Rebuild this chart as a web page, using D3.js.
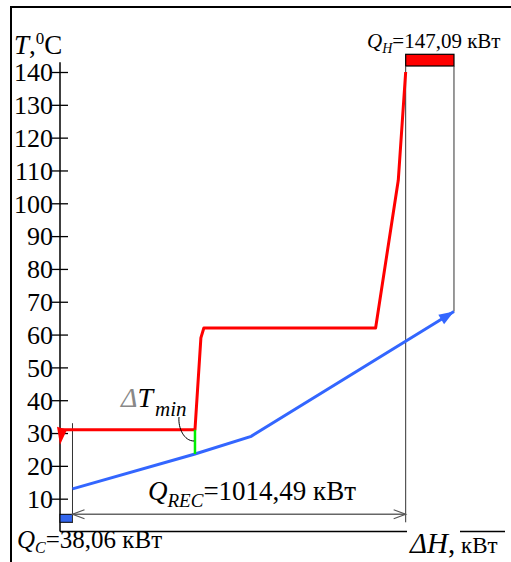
<!DOCTYPE html>
<html><head><meta charset="utf-8">
<script src="https://cdn.jsdelivr.net/npm/d3@7"></script>
<style>
html,body{margin:0;padding:0;background:#fff;}
svg{display:block;font-family:"Liberation Serif","Times New Roman",serif;}
</style></head>
<body>
<svg id="c" width="511" height="562"></svg>
<script>
// ---- data ----
const yTicks = [10,20,30,40,50,60,70,80,90,100,110,120,130,140];
const hotH = [0, 411, 429, 438, 961, 1030, 1052.55];
const hotT = [31, 31, 59, 62, 62, 107, 140];
const coldH = [38.06, 411, 582, 1199.64];
const coldT = [13, 23.6, 29, 67];
const Q_C = 38.06, Q_REC = 1014.49, Q_H = 147.09;
const pinchH = 411, pinchHotT = 31, pinchColdT = 23.6;
const labelQC = "=38,06 кВт", labelQREC = "=1014,49 кВт", labelQH = "=147,09 кВт";

const svg = d3.select("#c");
const x = d3.scaleLinear().domain([0, 1200]).range([60, 454.1]);
const y = d3.scaleLinear().domain([0, 140]).range([531.5, 72]);

// frame
svg.append("path").attr("d","M11,562 V7 H511").attr("fill","none").attr("stroke","#000").attr("stroke-width",2);

// x axis line
svg.append("line").attr("x1",x(0)).attr("x2",505).attr("y1",y(0)).attr("y2",y(0)).attr("stroke","#000").attr("stroke-width",1.5);

// y axis
const yAxis = d3.axisLeft(y).tickValues(yTicks).tickSize(0).tickPadding(7).tickFormat(d3.format("d"));
const ga = svg.append("g").attr("transform",`translate(${x(0)},0)`).call(yAxis);
ga.attr("font-family","Liberation Serif");
ga.select(".domain").remove();
ga.selectAll(".tick line").attr("x1",-8).attr("x2",8).attr("stroke","#000").attr("stroke-width",1.3);
ga.selectAll(".tick text").attr("font-size",26).attr("fill","#000").attr("font-family","Liberation Serif").attr("dy","0.34em");
svg.append("line").attr("x1",x(0)).attr("x2",x(0)).attr("y1",y(0)).attr("y2",y(143)).attr("stroke","#000").attr("stroke-width",1.5);

// Q_C rect
svg.append("rect").attr("x",x(0)).attr("width",x(Q_C)-x(0)).attr("y",514.3).attr("height",8)
  .attr("fill","#3366ee").attr("stroke","#000").attr("stroke-width",1);
// Q_H rect
svg.append("rect").attr("x",x(Q_C+Q_REC)).attr("width",x(Q_C+Q_REC+Q_H)-x(Q_C+Q_REC)).attr("y",54.3).attr("height",11.7)
  .attr("fill","#ff0000").attr("stroke","#000").attr("stroke-width",1.2);

// thin vertical guides
const vg = [[Q_C, y(33), 522.3],[Q_C+Q_REC, 66, 522.3],[Q_C+Q_REC+Q_H, 66, y(coldT[coldT.length-1])]];
vg.forEach(v=>svg.append("line").attr("x1",x(v[0])).attr("x2",x(v[0])).attr("y1",v[1]).attr("y2",v[2]).attr("stroke","#333").attr("stroke-width",1));

// Q_REC double arrow
const ay = 514.3, ax1 = x(Q_C), ax2 = x(Q_C+Q_REC);
svg.append("line").attr("x1",ax1).attr("x2",ax2).attr("y1",ay).attr("y2",ay).attr("stroke","#666").attr("stroke-width",1.5);
svg.append("path").attr("d",`M${ax1+12},${ay-4.5} L${ax1},${ay} L${ax1+12},${ay+4.5}`).attr("fill","none").attr("stroke","#555").attr("stroke-width",1.2);
svg.append("path").attr("d",`M${ax2-12},${ay-4.5} L${ax2},${ay} L${ax2-12},${ay+4.5}`).attr("fill","none").attr("stroke","#555").attr("stroke-width",1.2);

const line = d3.line().x(d=>x(d[0])).y(d=>y(d[1]));
// cold composite
const coldPts = coldH.map((h,i)=>[h,coldT[i]]);
svg.append("path").attr("d",line(coldPts)).attr("fill","none").attr("stroke","#3366ff").attr("stroke-width",3);
// blue arrowhead
{
  const p1 = coldPts[coldPts.length-2], p2 = coldPts[coldPts.length-1];
  const tx = x(p2[0]), ty = y(p2[1]);
  const a = Math.atan2(y(p2[1])-y(p1[1]), x(p2[0])-x(p1[0]));
  const L = 15, W = 5.5;
  const bx = tx - L*Math.cos(a), by = ty - L*Math.sin(a);
  const nx = -Math.sin(a)*W, ny = Math.cos(a)*W;
  svg.append("path").attr("d",`M${tx},${ty} L${bx+nx},${by+ny} L${bx-nx},${by-ny} Z`).attr("fill","#3366ff");
}
// hot composite
const hotPts = hotH.map((h,i)=>[h,hotT[i]]);
svg.append("path").attr("d",line(hotPts)).attr("fill","none").attr("stroke","#ff0000").attr("stroke-width",3).attr("stroke-linejoin","round");
// red arrowhead at start
{
  const sx = x(hotPts[0][0]), sy = y(hotPts[0][1]);
  svg.append("path").attr("d",`M${sx-3},${sy-3} L${sx+7},${sy} L${sx},${sy+15} Z`).attr("fill","#ff0000");
}
// pinch (green)
svg.append("line").attr("x1",x(pinchH)).attr("x2",x(pinchH)).attr("y1",y(pinchHotT)).attr("y2",y(pinchColdT)).attr("stroke","#00ee00").attr("stroke-width",2.5);
// leader curve
{
  const px = x(pinchH);
  svg.append("path").attr("d",`M179,417 C178,428 184,441 ${px-1},441`).attr("fill","none").attr("stroke","#000").attr("stroke-width",1);
}

// labels
const tl = svg.append("text").attr("x",14).attr("y",54).attr("font-size",27).attr("fill","#000");
tl.append("tspan").attr("font-style","italic").text("T");
tl.append("tspan").text(",");
tl.append("tspan").attr("font-size",17).attr("dy",-10).text("0");
tl.append("tspan").attr("dy",10).text("C");

const qh = svg.append("text").attr("x",367).attr("y",48).attr("font-size",21).attr("fill","#000");
qh.append("tspan").attr("font-style","italic").text("Q");
qh.append("tspan").attr("font-style","italic").attr("font-size",14).attr("dy",5).text("H");
qh.append("tspan").attr("dy",-5).text(labelQH);

const qr = svg.append("text").attr("x",148).attr("y",500).attr("font-size",27).attr("fill","#000");
qr.append("tspan").attr("font-style","italic").text("Q");
qr.append("tspan").attr("font-style","italic").attr("font-size",19).attr("dy",7).text("REC");
qr.append("tspan").attr("dy",-7).text(labelQREC);

const qc = svg.append("text").attr("x",17).attr("y",548).attr("font-size",25).attr("fill","#000");
qc.append("tspan").attr("font-style","italic").text("Q");
qc.append("tspan").attr("font-style","italic").attr("font-size",16).attr("dy",5).text("C");
qc.append("tspan").attr("dy",-5).text(labelQC);

// delta T min
const dt = svg.append("text").attr("x",121).attr("y",407).attr("font-size",28).attr("fill","#000");
dt.append("tspan").attr("font-style","italic").attr("fill","#888").text("Δ");
dt.append("tspan").attr("font-style","italic").text("T");
dt.append("tspan").attr("font-style","italic").attr("font-size",21).attr("dy",9).attr("dx",2).text("min");

// delta H
svg.append("rect").attr("x",407).attr("y",527).attr("width",53).attr("height",9).attr("fill","#fff");
const dh = svg.append("text").attr("x",410).attr("y",553).attr("font-size",29).attr("fill","#000");
dh.append("tspan").attr("font-style","italic").text("ΔH");
dh.append("tspan").text(",");
dh.append("tspan").attr("font-size",23).text(" кВт");
</script>
</body></html>
